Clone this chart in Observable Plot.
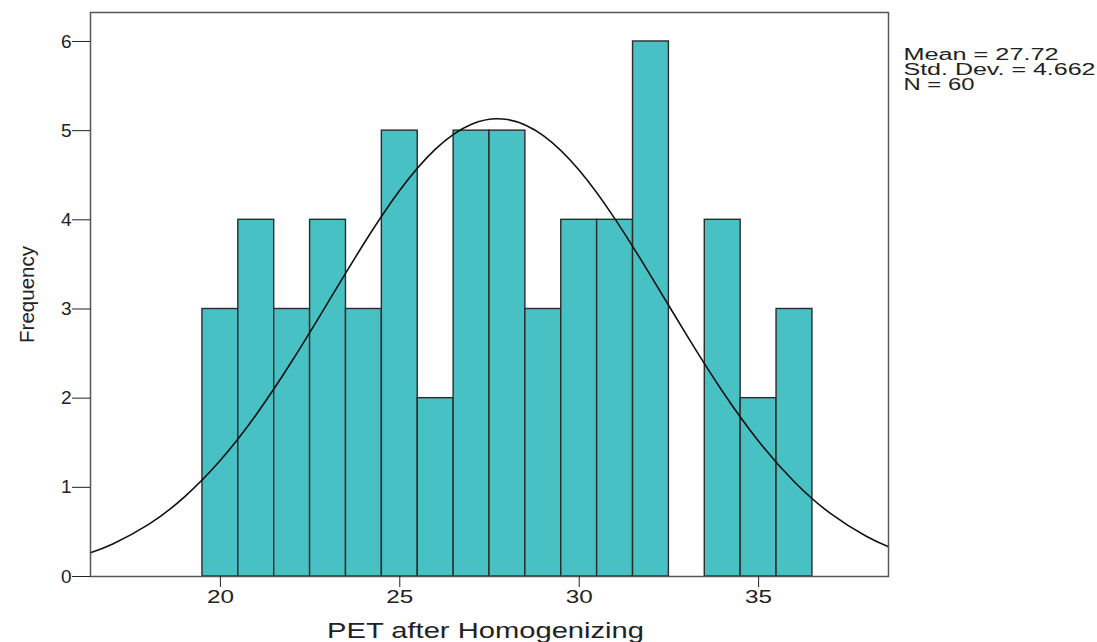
<!DOCTYPE html>
<html>
<head>
<meta charset="utf-8">
<script src="https://cdn.jsdelivr.net/npm/d3@7"></script>
<script src="https://cdn.jsdelivr.net/npm/@observablehq/plot@0.6"></script>
<style>
  html, body { margin: 0; padding: 0; background: #fff; }
  svg { display: block; }
</style>
</head>
<body>
<div id="chart"></div>
<script>
// Histogram bins (bin centres, width 1) and frequencies
const bins = [20, 21, 22, 23, 24, 25, 26, 27, 28, 29, 30, 31, 32, 33, 34, 35, 36];
const freq = [3, 4, 3, 4, 3, 5, 2, 5, 5, 3, 4, 4, 6, 0, 4, 2, 3];

// Fitted normal curve
const curveX = [16.38, 17, 18, 19, 20, 21, 22, 23, 24, 25, 26, 27, 28, 29, 30, 31, 32, 33, 34, 35, 36, 37, 38, 38.62];
const curveY = [0.266, 0.365, 0.584, 0.893, 1.303, 1.817, 2.419, 3.075, 3.734, 4.331, 4.796, 5.073, 5.125, 4.944, 4.555, 4.008, 3.369, 2.704, 2.072, 1.517, 1.060, 0.708, 0.452, 0.334];

const xTicks = [20, 25, 30, 35];
const yTicks = [0, 1, 2, 3, 4, 5, 6];
const statsText = ["Mean = 27.72", "Std. Dev. = 4.662", "N = 60"];
const statsWidth = [155, 192, 71];
const xLabel = "PET after Homogenizing";
const yLabel = "Frequency";

const bars = bins.map((b, i) => ({bin: b, freq: freq[i]})).filter(d => d.freq > 0);
const curve = curveX.map((x, i) => ({x, y: curveY[i]}));

const font = "'Liberation Sans', Arial, sans-serif";

const chart = Plot.plot({
  width: 1097,
  height: 642,
  marginLeft: 90,
  marginRight: 209,
  marginTop: 12,
  marginBottom: 66,
  style: {fontFamily: font, background: "#fff", color: "#222"},
  x: {domain: [16.38, 38.62], ticks: xTicks},
  y: {domain: [0, 6.325], ticks: yTicks},
  marks: [
    Plot.rectY(bars, {
      x1: d => d.bin - 0.5, x2: d => d.bin + 0.5, y1: 0, y2: "freq",
      fill: "#48c1c5", stroke: "#2b2b2b", strokeWidth: 1.4
    }),
    Plot.line(curve, {x: "x", y: "y", stroke: "#111", strokeWidth: 1.6, curve: "natural"}),
    Plot.frame({stroke: "#555", strokeWidth: 1.5}),
    Plot.axisX({ticks: xTicks, tickSize: 11, tickPadding: 3, fontSize: 18, label: null, stroke: "#222", tickFormat: "d"}),
    Plot.axisY({ticks: yTicks, tickSize: 18, tickPadding: 1, fontSize: 19, label: null, stroke: "#222", tickFormat: "d"}),
    Plot.text([xLabel], {
      frameAnchor: "bottom", dx: -4, dy: 61, lineAnchor: "bottom",
      fontSize: 22, fill: "#222"
    }),
    Plot.text([yLabel], {
      frameAnchor: "left", dx: -57, dy: 0, rotate: -90, lineAnchor: "bottom",
      textAnchor: "middle", fontSize: 20, fill: "#222"
    }),
    ...statsText.map((t, i) => Plot.text([t], {
      frameAnchor: "top-right", dx: 15, dy: 47 + i * 15, textAnchor: "start",
      lineAnchor: "bottom", fontSize: 16, fill: "#222"
    }))
  ]
});

document.getElementById("chart").appendChild(chart);

const widths = new Map([[xLabel, 317], [yLabel, 97]]);
statsText.forEach((t, i) => widths.set(t, statsWidth[i]));
const xTickStr = xTicks.map(String);

d3.select(chart).selectAll("text").each(function() {
  const s = this.textContent;
  if (xTickStr.includes(s)) {
    if (this.closest('g[aria-label="x-axis tick label"]')) {
      d3.select(this).attr("textLength", 27).attr("lengthAdjust", "spacingAndGlyphs");
    }
  } else if (widths.has(s)) {
    d3.select(this).attr("textLength", widths.get(s)).attr("lengthAdjust", "spacingAndGlyphs");
  }
});
</script>
</body>
</html>
